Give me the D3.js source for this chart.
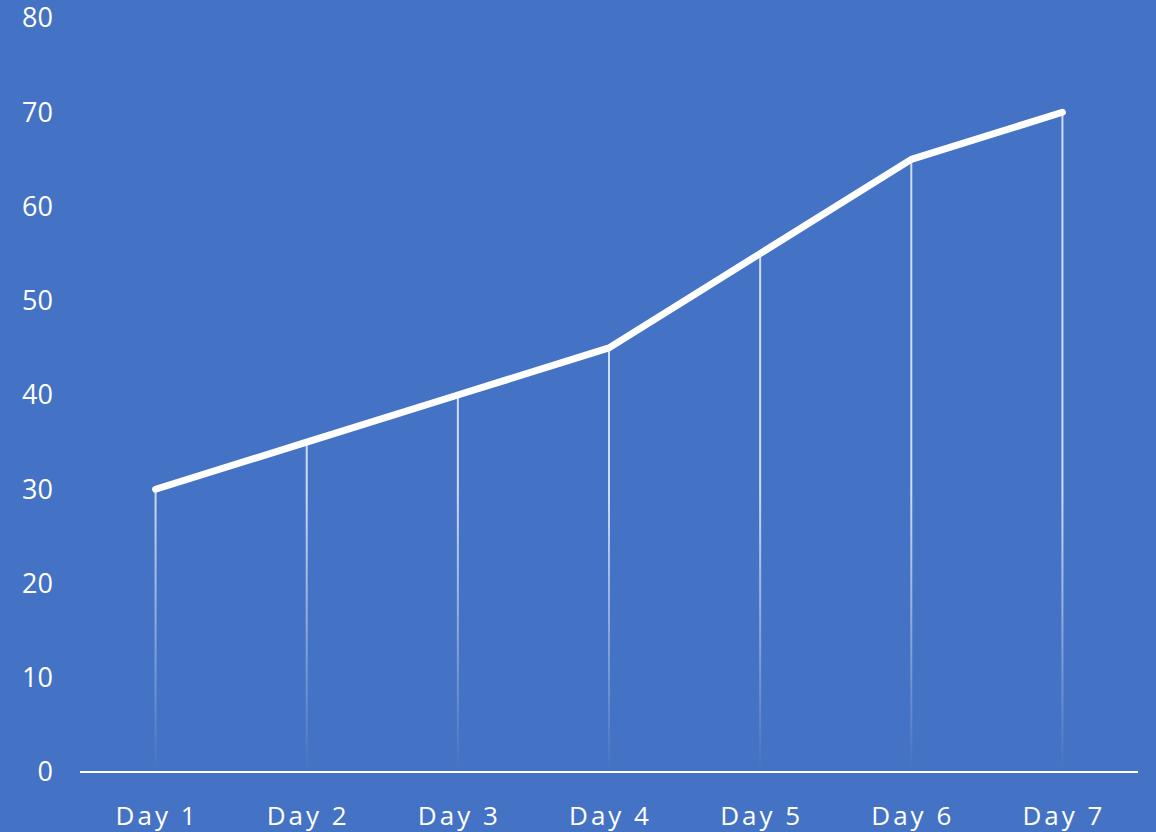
<!DOCTYPE html>
<meta charset="utf-8">
<body style="margin:0">
<style>
body { background: #4472c4; }
text { fill: #fff; font-family: "Open Sans", "Noto Sans", sans-serif; }
.y text { font-size: 27px; }
.x text { font-size: 26px; letter-spacing: 3px; }
</style>
<script src="https://cdn.jsdelivr.net/npm/d3@7"></script>
<script>

var days = ["Day 1", "Day 2", "Day 3", "Day 4", "Day 5", "Day 6", "Day 7"];
var values = [30, 35, 40, 45, 55, 65, 70];
var yTicks = [0, 10, 20, 30, 40, 50, 60, 70, 80];

var width = 1156, height = 832;
var plotLeft = 80, plotRight = 1138, plotTop = 18, plotBottom = 772;

var svg = d3.select("body").append("svg")
    .attr("width", width)
    .attr("height", height);

svg.append("rect")
    .attr("width", width)
    .attr("height", height)
    .attr("fill", "#4472c4");

var x = d3.scaleBand().domain(days).range([plotLeft, plotRight]).padding(0);
var y = d3.scaleLinear().domain([0, 80]).range([plotBottom, plotTop]);

var grad = svg.append("defs").append("linearGradient")
    .attr("id", "fade")
    .attr("gradientUnits", "userSpaceOnUse")
    .attr("x1", 0).attr("x2", 0)
    .attr("y1", y(0)).attr("y2", y(30));
grad.append("stop").attr("offset", 0).attr("stop-color", "#fff").attr("stop-opacity", 0);
grad.append("stop").attr("offset", 1).attr("stop-color", "#fff").attr("stop-opacity", 0.75);

// drop lines
svg.selectAll(".drop")
    .data(values)
  .enter().append("line")
    .attr("class", "drop")
    .attr("x1", function(d, i) { return x(days[i]) + x.bandwidth() / 2; })
    .attr("x2", function(d, i) { return x(days[i]) + x.bandwidth() / 2 + 0.01; })
    .attr("y1", function(d) { return y(d); })
    .attr("y2", y(0))
    .attr("stroke", "url(#fade)")
    .attr("stroke-width", 2);

// y labels
svg.append("g")
    .attr("class", "y")
    .selectAll("text")
    .data(yTicks)
  .enter().append("text")
    .attr("x", 53)
    .attr("y", function(d) { return y(d); })
    .attr("dy", "0.35em")
    .attr("text-anchor", "end")
    .text(function(d) { return d; });

// x axis line
svg.append("line")
    .attr("x1", plotLeft).attr("x2", plotRight)
    .attr("y1", y(0)).attr("y2", y(0))
    .attr("stroke", "#fff")
    .attr("stroke-width", 2);

svg.append("g")
    .attr("class", "x")
    .selectAll("text")
    .data(days)
  .enter().append("text")
    .attr("x", function(d) { return x(d) + x.bandwidth() / 2 + 1.5; })
    .attr("y", 825)
    .attr("text-anchor", "middle")
    .text(function(d) { return d; });

var line = d3.line()
    .x(function(d, i) { return x(days[i]) + x.bandwidth() / 2; })
    .y(function(d) { return y(d); });

svg.append("path")
    .datum(values)
    .attr("d", line)
    .attr("fill", "none")
    .attr("stroke", "#fff")
    .attr("stroke-width", 7)
    .attr("stroke-linecap", "round")
    .attr("stroke-linejoin", "round");

</script>
